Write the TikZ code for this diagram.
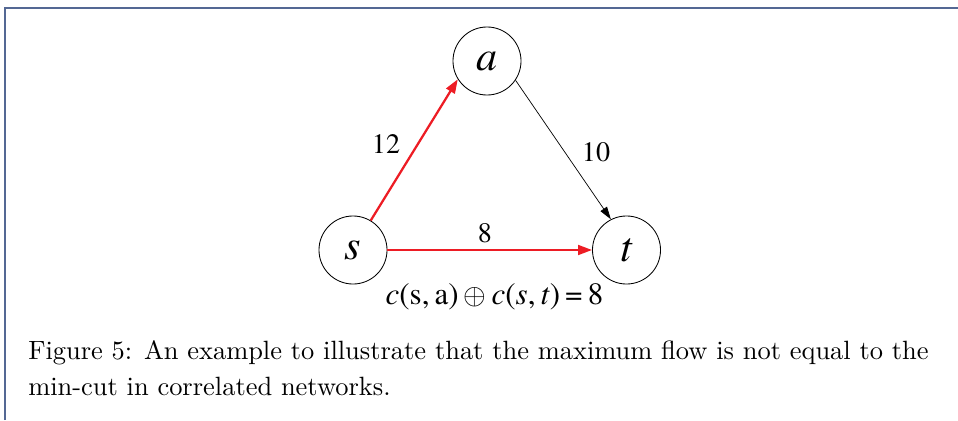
\documentclass[tikz,border=0pt]{standalone}
\usepackage{fontspec}
\setmainfont{texgyretermes-regular.otf}[ItalicFont=texgyretermes-italic.otf]
\newfontfamily\capfont{lmroman10-regular.otf}
\usepackage{xcolor}
\usetikzlibrary{arrows.meta}
\definecolor{framecol}{RGB}{84,104,148}
\definecolor{flowred}{RGB}{237,28,36}

\begin{document}
\begin{tikzpicture}[
    x=0.025cm, y=-0.025cm,
    vertex/.style={draw, circle, line width=0.6pt, minimum size=1.7cm, inner sep=0pt, font=\itshape\fontsize{30}{30}\selectfont},
    flow/.style={color=flowred, line width=1.6pt, -{Triangle[length=10pt,width=7pt]}},
    arr/.style={line width=0.5pt, -{Triangle[length=9pt,width=5.5pt]}},
    lbl/.style={anchor=base, font=\fontsize{20}{20}\selectfont},
]
    \useasboundingbox (0,0) rectangle (958,420);

    % frame
    \draw[framecol, line width=1.2pt] (5,420) -- (5,8) -- (958,8);

    % vertices
    \node[vertex] (a) at (487,61) {a};
    \node[vertex] (s) at (353,250) {s};
    \node[vertex] (t) at (626.5,250) {t};

    % edges
    \draw[flow] (s.59) -- (a.212);
    \draw[flow] (s.east) -- (t.west);
    \draw[arr] (a.326) -- (t.117);

    % capacities
    \node[lbl] (csa) at (386,153) {12};
    \node[lbl] (cat) at (596,161.5) {10};
    \node[lbl] (cst) at (485,242.5) {8};

    % cut
    \node[lbl, font=\fontsize{22}{22}\selectfont] (cut) at (494.5,304)
        {\textit{c}(s,\,a)\,$\oplus$\,\textit{c}(\textit{s},\,\textit{t})\,=\,8};

    % caption
    \node[anchor=base west, inner sep=0pt, align=left, font=\capfont\fontsize{18.8}{25.9}\selectfont] (caption) at (28,395.7)
        {Figure 5: An example to illustrate that the maximum flow is not equal to the\\
         min-cut in correlated networks.};
\end{tikzpicture}
\end{document}
